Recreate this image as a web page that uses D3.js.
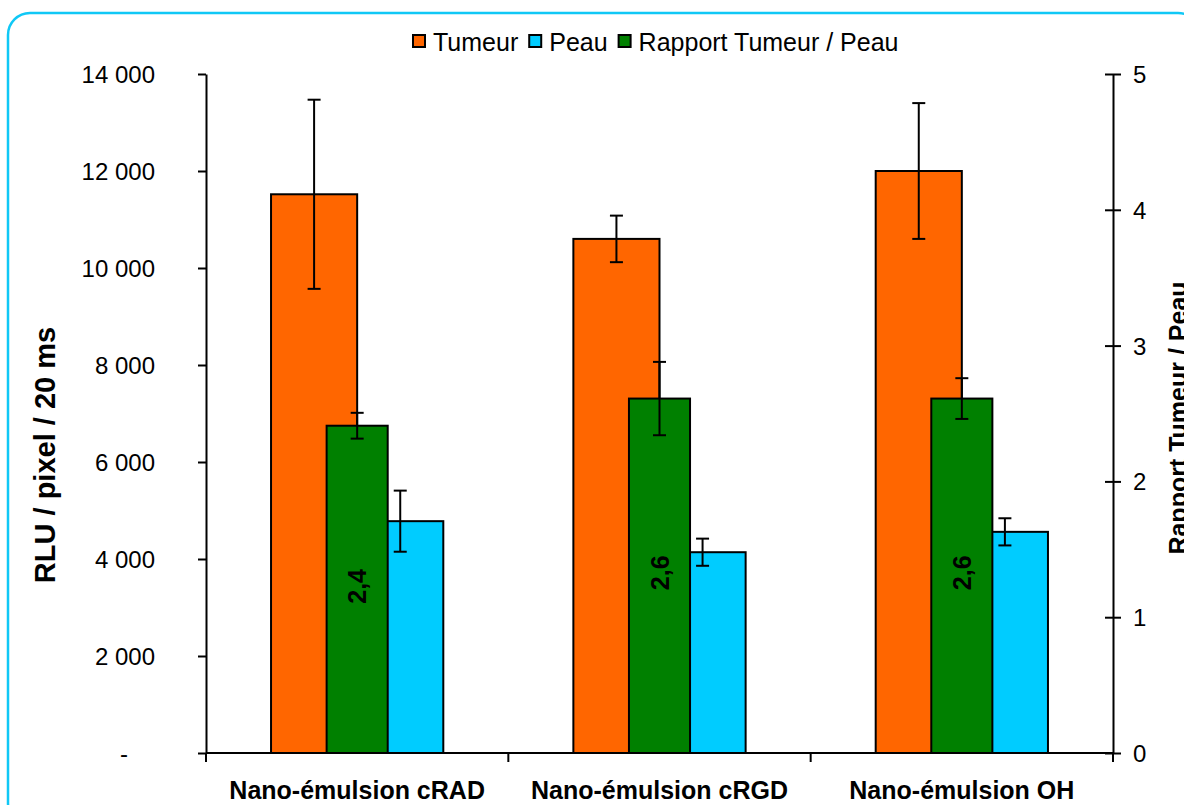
<!DOCTYPE html>
<html><head><meta charset="utf-8">
<script src="https://cdn.jsdelivr.net/npm/d3@7"></script>
<style>body{margin:0;background:#fff}svg{display:block;font-family:"Liberation Sans",Arial,sans-serif}</style>
</head><body><svg id="c" width="1184" height="805"></svg>
<script>
// ---- data ----
const categories = ["Nano-émulsion cRAD", "Nano-émulsion cRGD", "Nano-émulsion OH"];
const seriesNames = ["Tumeur", "Peau", "Rapport Tumeur / Peau"];
const tumeur = [11520, 10600, 12000];
const tumeurErr = [1950, 480, 1400];
const peau = [4780, 4140, 4560];
const peauErr = [630, 280, 280];
const rapport = [2.41, 2.61, 2.61];
const rapportErr = [0.095, 0.27, 0.15];
const rapportLabels = ["2,4", "2,6", "2,6"];
const leftTicks = [0, 2000, 4000, 6000, 8000, 10000, 12000, 14000];
const rightTicks = [0, 1, 2, 3, 4, 5];
const leftTitle = "RLU / pixel / 20 ms";
const rightTitle = "Rapport Tumeur / Peau";
const colors = ["#FF6600", "#00CCFF", "#008000"];

// ---- layout ----
const W = 1184, H = 805;
const plot = {left: 206, right: 1113, top: 74, bottom: 753};
const svg = d3.select("#c");
svg.append("rect").attr("width", W).attr("height", H).attr("fill", "#fff");
svg.append("rect").attr("x", 8).attr("y", 13).attr("width", 1192).attr("height", 812)
  .attr("rx", 22).attr("fill", "none").attr("stroke", "#10C8F6").attr("stroke-width", 2.5);

const x0 = d3.scaleBand().domain(categories).range([plot.left, plot.right]).padding(0);
const gapPrimary = 1.51, gapSecondary = 3.95;
const x1 = d3.scaleBand().domain(["Tumeur", "Peau"]).range([0, x0.bandwidth()])
  .paddingInner(0).paddingOuter(gapPrimary / 2);
const x2 = d3.scaleBand().domain(["Rapport"]).range([0, x0.bandwidth()])
  .paddingInner(0).paddingOuter(gapSecondary / 2);
const yL = d3.scaleLinear().domain([0, 14000]).range([plot.bottom, plot.top]);
const yR = d3.scaleLinear().domain([0, 5]).range([plot.bottom, plot.top]);

const fmt = d3.formatLocale({thousands: " ", grouping: [3], decimal: ",", currency: ["", ""]}).format(",d");
const FS = 24;

// ---- primary bars ----
const primary = [
  {key: "Tumeur", vals: tumeur, errs: tumeurErr, color: colors[0]},
  {key: "Peau", vals: peau, errs: peauErr, color: colors[1]}
];
const gBars = svg.append("g");
primary.forEach(s => {
  categories.forEach((c, i) => {
    const x = x0(c) + x1(s.key);
    gBars.append("rect").attr("x", x).attr("y", yL(s.vals[i]))
      .attr("width", x1.bandwidth()).attr("height", yL(0) - yL(s.vals[i]))
      .attr("fill", s.color).attr("stroke", "#000").attr("stroke-width", 2);
  });
});
function errBar(g, cx, yTop, yBot) {
  g.append("line").attr("x1", cx).attr("x2", cx).attr("y1", yTop).attr("y2", yBot);
  g.append("line").attr("x1", cx - 6.5).attr("x2", cx + 6.5).attr("y1", yTop).attr("y2", yTop);
  g.append("line").attr("x1", cx - 6.5).attr("x2", cx + 6.5).attr("y1", yBot).attr("y2", yBot);
}
const gErr = svg.append("g").attr("stroke", "#000").attr("stroke-width", 2);
primary.forEach(s => {
  categories.forEach((c, i) => {
    const cx = x0(c) + x1(s.key) + x1.bandwidth() / 2;
    errBar(gErr, cx, yL(s.vals[i] + s.errs[i]), yL(s.vals[i] - s.errs[i]));
  });
});

// ---- secondary bars ----
const gSec = svg.append("g");
categories.forEach((c, i) => {
  const x = x0(c) + x2("Rapport");
  gSec.append("rect").attr("x", x).attr("y", yR(rapport[i]))
    .attr("width", x2.bandwidth()).attr("height", yR(0) - yR(rapport[i]))
    .attr("fill", colors[2]).attr("stroke", "#000").attr("stroke-width", 2);
});
const gErr2 = svg.append("g").attr("stroke", "#000").attr("stroke-width", 2);
categories.forEach((c, i) => {
  const cx = x0(c) + x2("Rapport") + x2.bandwidth() / 2;
  errBar(gErr2, cx, yR(rapport[i] + rapportErr[i]), yR(rapport[i] - rapportErr[i]));
});
categories.forEach((c, i) => {
  const cx = x0(c) + x2("Rapport") + x2.bandwidth() / 2;
  const cy = (yR(rapport[i]) + yR(0)) / 2 - 3;
  svg.append("text").attr("transform", `translate(${cx},${cy}) rotate(-90)`)
    .attr("text-anchor", "middle").attr("dominant-baseline", "central")
    .attr("font-size", 25).attr("font-weight", "bold").attr("fill", "#000")
    .text(rapportLabels[i]);
});

// ---- axes ----
const axL = d3.axisLeft(yL).tickValues(leftTicks).tickSize(8).tickSizeOuter(0)
  .tickFormat(d => d === 0 ? "-" : fmt(d));
const gL = svg.append("g").attr("transform", `translate(${plot.left},0)`).call(axL);
gL.select(".domain").attr("stroke", "#000").attr("stroke-width", 2);
gL.selectAll(".tick line").attr("stroke", "#000").attr("stroke-width", 2);
gL.selectAll(".tick text").attr("font-size", FS).attr("font-family", "Liberation Sans, Arial, sans-serif")
  .attr("fill", "#000").attr("x", -51).attr("dy", "0.35em")
  .filter(d => d === 0).attr("x", -78);

const axR = d3.axisRight(yR).tickValues(rightTicks).tickSizeInner(8).tickSizeOuter(0).tickFormat(d3.format("d"));
const gR = svg.append("g").attr("transform", `translate(${plot.right},0)`).call(axR);
gR.select(".domain").attr("stroke", "#000").attr("stroke-width", 2);
gR.selectAll(".tick line").attr("stroke", "#000").attr("stroke-width", 2).attr("x1", -8).attr("x2", 8);
gR.selectAll(".tick text").attr("font-size", FS).attr("font-family", "Liberation Sans, Arial, sans-serif")
  .attr("fill", "#000").attr("x", 20).attr("dy", "0.35em");

// x axis: baseline + category boundary ticks
const gX = svg.append("g").attr("stroke", "#000").attr("stroke-width", 2);
gX.append("line").attr("x1", plot.left).attr("x2", plot.right).attr("y1", yL(0)).attr("y2", yL(0));
const bounds = categories.map(c => x0(c)).concat([x0(categories[categories.length - 1]) + x0.bandwidth()]);
bounds.forEach(b => gX.append("line").attr("x1", b).attr("x2", b).attr("y1", yL(0)).attr("y2", yL(0) + 9));
categories.forEach(c => {
  svg.append("text").attr("x", x0(c) + x0.bandwidth() / 2).attr("y", 799)
    .attr("text-anchor", "middle").attr("font-size", 25).attr("font-weight", "bold").text(c);
});

// axis titles
svg.append("text").attr("transform", `translate(55,455) rotate(-90)`).attr("text-anchor", "middle")
  .attr("font-size", 29).attr("font-weight", "bold").text(leftTitle);
svg.append("text").attr("transform", `translate(1187,418) rotate(-90)`).attr("text-anchor", "middle")
  .attr("font-size", 25).attr("font-weight", "bold").text(rightTitle);

// legend
const legend = svg.append("g");
let lx = 413;
seriesNames.forEach((n, i) => {
  legend.append("rect").attr("x", lx).attr("y", 35).attr("width", 12).attr("height", 12)
    .attr("fill", colors[i]).attr("stroke", "#000").attr("stroke-width", 2);
  const t = legend.append("text").attr("x", lx + 20).attr("y", 51).attr("font-size", 25).text(n);
  lx += 20 + t.node().getComputedTextLength() + 11;
});
</script></body></html>
